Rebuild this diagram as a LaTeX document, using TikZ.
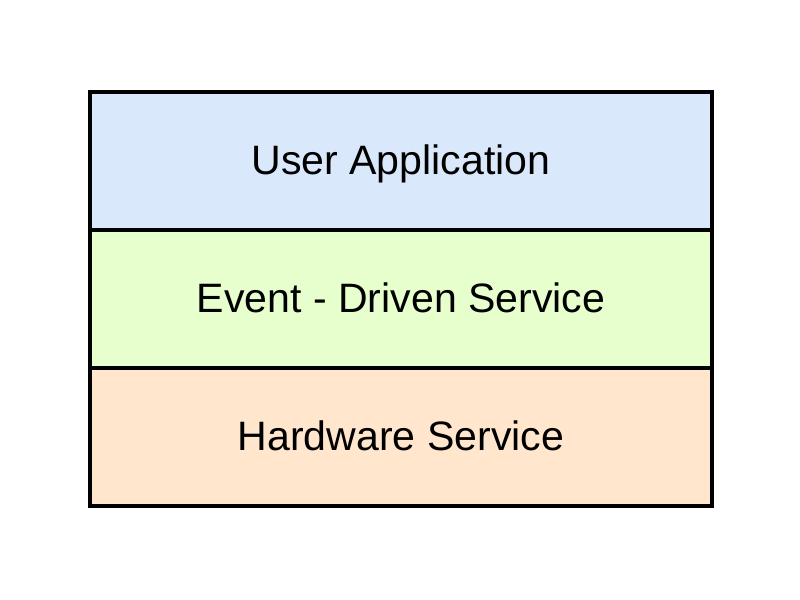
\documentclass[tikz,border=0pt]{standalone}
\usepackage{fontspec}
\setmainfont{Liberation Sans}
\definecolor{bluefill}{HTML}{DAE8FC}
\definecolor{greenfill}{HTML}{E6FFCC}
\definecolor{orangefill}{HTML}{FFE6CC}
\begin{document}
\begin{tikzpicture}[x=0.75pt,y=-0.75pt,
  layer/.style={draw=black,line width=2.3pt,minimum width=466.5pt,minimum height=103.5pt,inner sep=0pt,
    text height=22pt,text depth=2pt,font=\fontsize{30.8}{36}\selectfont}]
\useasboundingbox (0,0) rectangle (800,600);
\node[layer,fill=bluefill] (ua) at (401,161) {User Application};
\node[layer,fill=greenfill] (eds) at (401,299) {Event - Driven Service};
\node[layer,fill=orangefill] (hs) at (401,437) {Hardware Service};
\end{tikzpicture}
\end{document}
